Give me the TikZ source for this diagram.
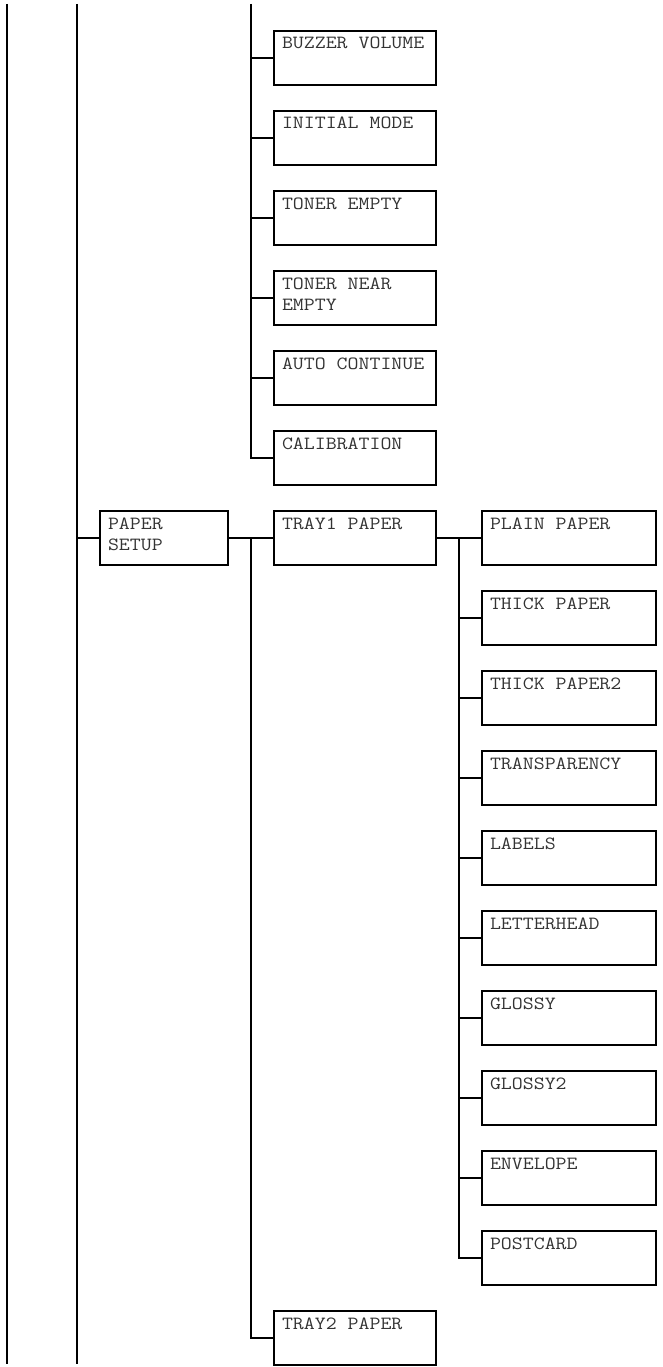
\documentclass[tikz,border=0pt]{standalone}
\usepackage{fontspec}
\newfontfamily\menufont[FakeStretch=1.143]{Latin Modern Mono}
\newcommand\mtext[2]{\parbox[t][54pt][t]{#1}{\menufont\fontsize{18.6}{21.3}\selectfont\color{black!80}\raggedright\leftskip=8pt\parindent=0pt\rule{0pt}{18pt}#2}}
\tikzset{
  mbox/.style={draw, line width=1.6pt, inner sep=0pt, outer sep=0pt, anchor=north west},
  conn/.style={line width=1.6pt}
}
\begin{document}
\begin{tikzpicture}[x=1pt,y=-1pt]
\useasboundingbox (0,0) rectangle (662,1367);
% trunk end points
\coordinate (l1t) at (7,4);
\coordinate (l1b) at (7,1364);
\coordinate (l2t) at (77,4);
\coordinate (l2b) at (77,1364);
\coordinate (l3t) at (251,4);
% first column of the upper group
\node[mbox] (buzzer) at (274,31)  {\mtext{162pt}{BUZZER VOLUME}};
\node[mbox] (initial) at (274,111) {\mtext{162pt}{INITIAL MODE}};
\node[mbox] (tempty) at (274,191) {\mtext{162pt}{TONER EMPTY}};
\node[mbox] (tnear) at (274,271) {\mtext{162pt}{TONER NEAR\\EMPTY}};
\node[mbox] (autoc) at (274,351) {\mtext{162pt}{AUTO CONTINUE}};
\node[mbox] (calib) at (274,431) {\mtext{162pt}{CALIBRATION}};
% paper setup
\node[mbox] (psetup) at (100,511) {\mtext{128pt}{PAPER\\SETUP}};
\node[mbox] (tray1) at (274,511) {\mtext{162pt}{TRAY1 PAPER}};
\node[mbox] (tray2) at (274,1311) {\mtext{162pt}{TRAY2 PAPER}};
% paper types
\node[mbox] (plain) at (482,511) {\mtext{174pt}{PLAIN PAPER}};
\node[mbox] (thick) at (482,591) {\mtext{174pt}{THICK PAPER}};
\node[mbox] (thick2) at (482,671) {\mtext{174pt}{THICK PAPER2}};
\node[mbox] (transp) at (482,751) {\mtext{174pt}{TRANSPARENCY}};
\node[mbox] (labels) at (482,831) {\mtext{174pt}{LABELS}};
\node[mbox] (lhead) at (482,911) {\mtext{174pt}{LETTERHEAD}};
\node[mbox] (glossy) at (482,991) {\mtext{174pt}{GLOSSY}};
\node[mbox] (glossy2) at (482,1071) {\mtext{174pt}{GLOSSY2}};
\node[mbox] (envel) at (482,1151) {\mtext{174pt}{ENVELOPE}};
\node[mbox] (postc) at (482,1231) {\mtext{174pt}{POSTCARD}};
% trunks
\draw[conn] (l1t) -- (l1b);
\draw[conn] (l2t) -- (l2b);
\draw[conn] (psetup.west) -- (psetup.west -| l2t);
% upper group trunk
\draw[conn] (l3t) |- (calib.west);
\foreach \n in {buzzer,initial,tempty,tnear,autoc}
  \draw[conn] (\n.west) -- (\n.west -| l3t);
% paper setup to trays
\draw[conn] (psetup.east) -- (tray1.west);
\draw[conn] (psetup.east -| l3t) |- (tray2.west);
% tray1 to paper types
\draw[conn] (tray1.east) -- (plain.west);
\coordinate (l4) at (459,538);
\draw[conn] (l4) |- (postc.west);
\foreach \n in {thick,thick2,transp,labels,lhead,glossy,glossy2,envel}
  \draw[conn] (\n.west) -- (\n.west -| l4);
\end{tikzpicture}
\end{document}
